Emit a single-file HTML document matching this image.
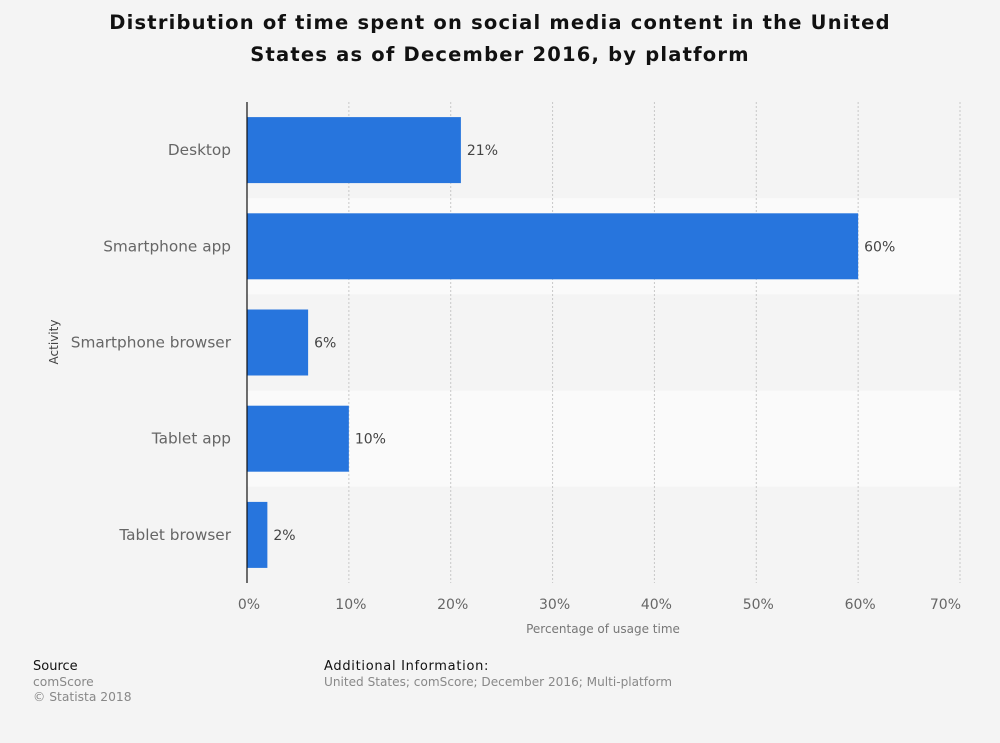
<!DOCTYPE html>
<html><head><meta charset="utf-8"><style>
body{margin:0;background:#f4f4f4;}
svg{display:block;font-family:"DejaVu Sans","Liberation Sans",sans-serif;}
</style></head><body>
<svg id="c" width="1000" height="743">
<rect width="1000" height="743" fill="#f4f4f4"/>
<text x="500" y="29" text-anchor="middle" font-size="19.5" font-weight="bold" fill="#111" letter-spacing="1.2"><tspan x="500">Distribution of time spent on social media content in the United</tspan><tspan x="500" dy="32">States as of December 2016, by platform</tspan></text>
<g id="bands"></g><g id="grid"></g><g id="bars"></g><g id="labels"></g>
<line x1="247" y1="102" x2="247" y2="583" stroke="#111" stroke-width="1.2"/>
<text transform="translate(58,342) rotate(-90)" text-anchor="middle" font-size="12" fill="#444">Activity</text>
<text x="603" y="633" text-anchor="middle" font-size="12" fill="#777">Percentage of usage time</text>
<text x="33" y="670" font-size="13" fill="#111">Source</text>
<text x="33" y="686" font-size="12.3" fill="#888">comScore</text>
<text x="33" y="701" font-size="12.3" fill="#888">© Statista 2018</text>
<text x="324" y="670" font-size="13" fill="#111" letter-spacing="0.7">Additional Information:</text>
<text x="324" y="686" font-size="12.1" fill="#888">United States; comScore; December 2016; Multi-platform</text>
</svg>
<script>
const categories=["Desktop","Smartphone app","Smartphone browser","Tablet app","Tablet browser"];
const values=[21,60,6,10,2];
const valueLabels=["21%","60%","6%","10%","2%"];
const ticks=[0,10,20,30,40,50,60,70];
const tickLabels=["0%","10%","20%","30%","40%","50%","60%","70%"];
const NS="http://www.w3.org/2000/svg";
const X0=247,X1=960,XMAX=70,PTOP=102,PBOT=583;
const xs=v=>X0+(X1-X0)*v/XMAX;
const bandH=(PBOT-PTOP)/categories.length;
const yc=i=>PTOP+bandH*(i+0.5);
function mk(t,a,p){const e=document.createElementNS(NS,t);for(const k in a)e.setAttribute(k,a[k]);document.getElementById(p).appendChild(e);return e;}
categories.forEach((c,i)=>{
 const b=mk("rect",{x:X0,y:PTOP+bandH*i,width:X1-X0,height:bandH,fill:i%2?"#fafafa":"#f4f4f4"},"bands");
 
 
});
ticks.forEach((t,i)=>{
 if(t>0){const g=mk("line",{x1:xs(t),x2:xs(t),y1:PTOP,y2:PBOT,stroke:"#c8c8c8","stroke-dasharray":"2,2"},"grid");
 
 }
 const last=i===ticks.length-1;
 const l=mk("text",{x:last?xs(t)+1:xs(t)+2,y:609,"text-anchor":last?"end":"middle","font-size":"14",fill:"#666"},"labels");
 l.textContent=tickLabels[i];
 
 
});
categories.forEach((c,i)=>{
 const y=yc(i);
 const r=mk("rect",{x:X0,y:y-33,width:xs(values[i])-X0,height:66,fill:"#2775dd"},"bars");
 
 
 const v=mk("text",{x:xs(values[i])+6,y:y+5,"font-size":"14",fill:"#444"},"labels");
 v.textContent=valueLabels[i];
 
 
 const l=mk("text",{x:231,y:y+5,"text-anchor":"end","font-size":"15.3",fill:"#666"},"labels");
 l.textContent=c;
 
 
});
</script>
</body></html>
